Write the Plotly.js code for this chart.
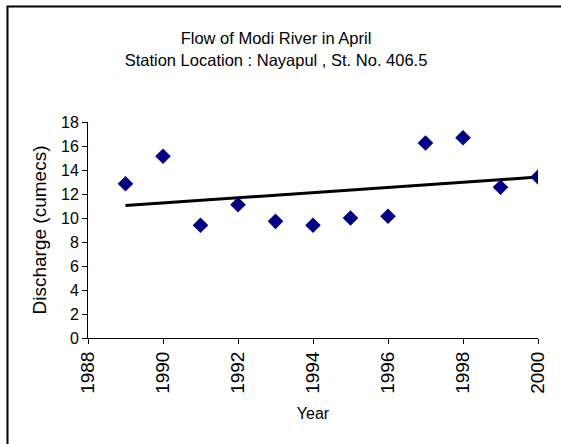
<!DOCTYPE html>
<html>
<head>
<meta charset="utf-8">
<script src="https://cdn.plot.ly/plotly-3.0.1.min.js"></script>
<style>html,body{margin:0;padding:0;background:#fff;}#chart{width:561px;height:444px;}</style>
</head>
<body>
<div id="chart"></div>
<script>
const years = [1989, 1990, 1991, 1992, 1993, 1994, 1995, 1996, 1997, 1998, 1999, 2000];
const discharge = [12.86, 15.14, 9.39, 11.11, 9.72, 9.39, 10.0, 10.14, 16.25, 16.69, 12.56, 13.42];
const xTicks = [1988, 1990, 1992, 1994, 1996, 1998, 2000];
const yTicks = [0, 2, 4, 6, 8, 10, 12, 14, 16, 18];

// linear trendline (least squares) from the data
const n = years.length;
const mx = years.reduce((a, b) => a + b, 0) / n;
const my = discharge.reduce((a, b) => a + b, 0) / n;
let sxy = 0, sxx = 0;
for (let i = 0; i < n; i++) { sxy += (years[i] - mx) * (discharge[i] - my); sxx += (years[i] - mx) ** 2; }
const slope = sxy / sxx, icpt = my - slope * mx;
const trendX = [years[0], years[n - 1]];
const trendY = trendX.map(x => icpt + slope * x);

const font = {family: 'Liberation Sans, Arial, sans-serif', color: '#000'};
const f = s => Object.assign({size: s}, font);

Plotly.newPlot('chart', [
  {x: trendX, y: trendY, mode: 'lines', line: {color: '#000', width: 3}, hoverinfo: 'skip'},
  {x: years, y: discharge, mode: 'markers', marker: {symbol: 'diamond', color: '#000080', size: 12}}
], {
  width: 561, height: 444,
  margin: {l: 88, r: 23, t: 122, b: 106},
  paper_bgcolor: '#fff', plot_bgcolor: '#fff',
  showlegend: false,
  font: f(15),
  title: {text: 'Flow of Modi River in April<br>Station Location : Nayapul , St. No. 406.5',
          font: f(16.5), x: 0.492, xanchor: 'center', y: 0.9, yanchor: 'middle'},
  xaxis: {range: [1988, 2000], tickvals: xTicks, ticktext: xTicks.map(String), tickangle: -90,
          showgrid: false, zeroline: false, showline: true, linecolor: '#000', linewidth: 1,
          ticks: 'outside', ticklen: 5, tickcolor: '#000', tickfont: f(19),
          title: {text: 'Year', font: f(16), standoff: 14}},
  yaxis: {range: [0, 18], tickvals: yTicks, showgrid: false, zeroline: false, showline: true,
          linecolor: '#000', linewidth: 1, ticks: 'outside', ticklen: 5, tickcolor: '#000',
          tickfont: f(16),
          title: {text: 'Discharge (cumecs)', font: f(19), standoff: 9}},
  shapes: [{type: 'rect', xref: 'paper', yref: 'paper',
            x0: (7.5 - 88) / 450, x1: (570 - 88) / 450,
            y0: (338 - 460) / 216, y1: (338 - 6.5) / 216,
            line: {color: '#000', width: 2}, fillcolor: 'rgba(0,0,0,0)', layer: 'below'}]
}, {staticPlot: true});
</script>
</body>
</html>
